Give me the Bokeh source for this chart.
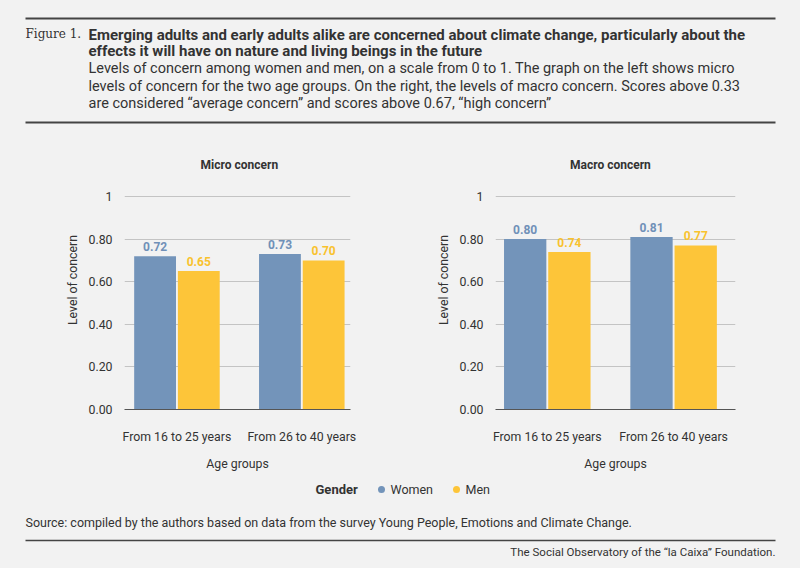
from bokeh.plotting import figure
from bokeh.layouts import column, row
from bokeh.models import Range1d, FixedTicker, ColumnDataSource
from bokeh.embed import file_html
from bokeh.resources import INLINE
from bokeh.core.properties import value

BG = "#f2f2f2"
BLUE = "#7394ba"
YEL = "#fdc539"
BLUE_T = "#7090b8"
YEL_T = "#f9c22e"
DARK = "#333333"
FONT = "Roboto"

age_groups = ["From 16 to 25 years", "From 26 to 40 years"]
micro_women = [0.72, 0.73]
micro_men = [0.65, 0.70]
macro_women = [0.80, 0.81]
macro_men = [0.74, 0.77]
y_ticks = [0, 0.2, 0.4, 0.6, 0.8, 1]
y_tick_labels = ["0.00", "0.20", "0.40", "0.60", "0.80", "1"]

def base(w, h, xr, yr):
    p = figure(width=w, height=h, x_range=xr, y_range=yr, output_backend="svg",
               toolbar_location=None, min_border=0)
    p.background_fill_color = BG
    p.border_fill_color = BG
    p.outline_line_color = None
    return p

def bare(w, h):
    p = base(w, h, Range1d(0, w), Range1d(h, 0))
    p.axis.visible = False
    p.grid.visible = False
    return p

# header
hdr = bare(800, 138)
hdr.segment(x0=[25, 25], y0=[18, 122], x1=[775, 775], y1=[18, 122], line_color="#444444", line_width=2)
hdr.text(x=[25], y=[33], text=["Figure 1."], text_font=value("DejaVu Serif"), text_font_size="12px",
         text_color=DARK, text_baseline="middle")
hdr.text(x=[88, 88], y=[34, 50],
         text=["Emerging adults and early adults alike are concerned about climate change, particularly about the",
               "effects it will have on nature and living beings in the future"],
         text_font=value(FONT), text_font_style="bold", text_font_size="15px", text_color=DARK, text_baseline="middle")
hdr.text(x=[88, 88, 88], y=[68, 86, 103],
         text=["Levels of concern among women and men, on a scale from 0 to 1. The graph on the left shows micro",
               "levels of concern for the two age groups. On the right, the levels of macro concern. Scores above 0.33",
               "are considered \u201caverage concern\u201d and scores above 0.67, \u201chigh concern\u201d"],
         text_font=value(FONT), text_font_size="14.5px", text_color=DARK, text_baseline="middle")

def chart(title, women, men, left, right, x0, x1):
    p = base(400, 342, Range1d(x0, x1), Range1d(0, 1.216))
    p.min_border_left = left
    p.min_border_right = right
    p.min_border_top = 12
    p.min_border_bottom = 71
    xs = list(range(len(age_groups)))
    d = 0.175
    w = 0.335
    src = ColumnDataSource(dict(xw=[x - d for x in xs], xm=[x + d for x in xs], w=women, m=men,
                                wl=[f"{v:.2f}" for v in women], ml=[f"{v:.2f}" for v in men]))
    p.vbar(x="xw", top="w", width=w, source=src, fill_color=BLUE, line_color=None)
    p.vbar(x="xm", top="m", width=w, source=src, fill_color=YEL, line_color=None)
    p.text(x="xw", y="w", text="wl", source=src, y_offset=-5, text_align="center", text_baseline="bottom",
           text_font=value(FONT), text_font_style="bold", text_font_size="12px", text_color=BLUE_T)
    p.text(x="xm", y="m", text="ml", source=src, y_offset=-5, text_align="center", text_baseline="bottom",
           text_font=value(FONT), text_font_style="bold", text_font_size="12px", text_color=YEL_T)
    p.text(x=[(xs[0] + xs[-1]) / 2], y=[1.15], text=[title], text_align="center", text_baseline="middle",
           text_font=value(FONT), text_font_style="bold", text_font_size="12px", text_color=DARK)
    p.yaxis.ticker = FixedTicker(ticks=y_ticks)
    p.yaxis.major_label_overrides = {t: l for t, l in zip(y_ticks, y_tick_labels)}
    p.yaxis.axis_line_color = None
    p.yaxis.major_tick_line_color = None
    p.yaxis.minor_tick_line_color = None
    p.yaxis.major_label_standoff = 6
    p.yaxis.axis_label = "Level of concern"
    p.yaxis.axis_label_standoff = 6
    p.xaxis.ticker = FixedTicker(ticks=xs)
    p.xaxis.major_label_overrides = {x: g for x, g in zip(xs, age_groups)}
    p.xaxis.axis_line_color = "#555555"
    p.xaxis.major_tick_line_color = None
    p.xaxis.minor_tick_line_color = None
    p.xaxis.major_label_standoff = 14
    p.xaxis.axis_label = "Age groups"
    p.xaxis.axis_label_standoff = 10
    for ax in (p.xaxis, p.yaxis):
        ax.major_label_text_font = FONT
        ax.major_label_text_font_size = "12.3px"
        ax.major_label_text_color = DARK
        ax.axis_label_text_font = FONT
        ax.axis_label_text_font_size = "12.3px"
        ax.axis_label_text_font_style = "normal"
        ax.axis_label_text_color = DARK
    p.xgrid.visible = False
    p.ygrid.ticker = FixedTicker(ticks=y_ticks)
    p.ygrid.grid_line_color = "#c4c4c4"
    return p

p1 = chart("Micro concern", micro_women, micro_men, 124, 50, -0.42, 1.39)
p2 = chart("Macro concern", macro_women, macro_men, 95, 65, -0.41, 1.49)

# footer
ftr = bare(800, 88)
ftr.text(x=[315], y=[9], text=["Gender"], text_font=value(FONT), text_font_style="bold", text_font_size="13px",
         text_color=DARK, text_baseline="middle")
ftr.scatter(x=[381, 456], y=[9, 9], size=7, fill_color=[BLUE, YEL], line_color=None)
ftr.text(x=[390, 465], y=[9, 9], text=["Women", "Men"], text_font=value(FONT), text_font_size="12.5px",
         text_color=DARK, text_baseline="middle")
ftr.text(x=[25], y=[42], text=["Source: compiled by the authors based on data from the survey Young People, Emotions and Climate Change."],
         text_font=value(FONT), text_font_size="12.5px", text_color=DARK, text_baseline="middle")
ftr.segment(x0=[25], y0=[60], x1=[775], y1=[60], line_color="#444444", line_width=1.5)
ftr.text(x=[775], y=[71], text=["The Social Observatory of the \u201cla Caixa\u201d Foundation."],
         text_font=value(FONT), text_font_size="11.5px", text_color=DARK, text_baseline="middle", text_align="right")

layout = column(hdr, row(p1, p2, spacing=0, styles={"background-color": BG}), ftr, spacing=0,
                styles={"background-color": BG})
open("out.html", "w").write(file_html(layout, INLINE))
